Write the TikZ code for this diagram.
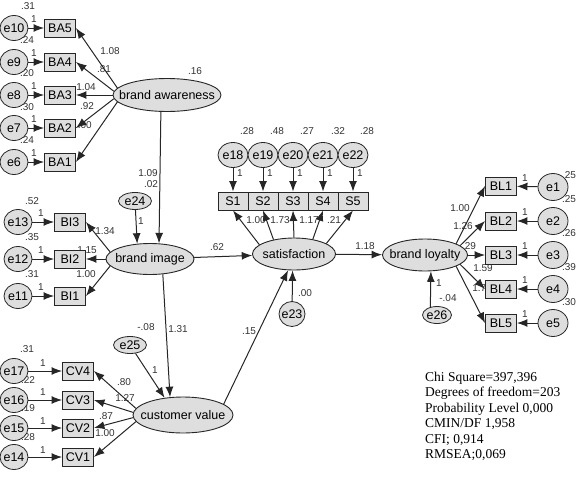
\documentclass[tikz,border=0pt]{standalone}
\usepackage{fontspec}
\setmainfont{Liberation Sans}
\newfontfamily\statfont{Liberation Serif}
\usetikzlibrary{shapes.geometric,arrows.meta}
\definecolor{semfill}{gray}{0.87}
\definecolor{semline}{gray}{0.15}
\newcommand{\lvtxt}[1]{\makebox[0pt]{#1}}
\tikzset{
  obs/.style={draw=semline,fill=semfill,line width=0.9pt,minimum width=31pt,minimum height=18pt,inner sep=0pt,font=\fontsize{12.5}{14}\selectfont},
  sbox/.style={obs,minimum width=30pt},
  err/.style={ellipse,draw=semline,fill=semfill,line width=0.8pt,minimum width=28pt,minimum height=25pt,inner sep=0pt,font=\fontsize{12.5}{14}\selectfont},
  res/.style={err,minimum width=33pt,minimum height=17pt},
  lat/.style={ellipse,draw=semline,fill=semfill,line width=0.9pt,inner sep=0pt,font=\fontsize{12.5}{14}\selectfont},
  est/.style={inner sep=0pt,font=\fontsize{10}{12}\selectfont,text=black!80},
  reg/.style={->,line width=1pt,draw=semline},
}
\begin{document}
\begin{tikzpicture}[x=1pt,y=-1pt,>={Latex[length=10.5pt,width=8pt]}]
    \useasboundingbox (0,0) rectangle (581,479);
    % estimates (set first, shapes cover them)
    \node[est] (vE10) at (28,6) {.31};
    \node[est] (vE9) at (27,40) {.24};
    \node[est] (vE8) at (27,73) {.20};
    \node[est] (vE7) at (27,107) {.30};
    \node[est] (vE6) at (27,140) {.24};
    \node[est] (fE10) at (34,19) {1};
    \node[est] (fE9) at (34,53) {1};
    \node[est] (fE8) at (34,86) {1};
    \node[est] (fE7) at (34,119) {1};
    \node[est] (fE6) at (34,153) {1};
    \node[est] (lBA5) at (110,51) {1.08};
    \node[est] (lBA4) at (104,69) {.81};
    \node[est] (lBA3) at (86,87) {1.04};
    \node[est] (lBA2) at (87,106) {.92};
    \node[est] (lBA1) at (82,125) {1.00};
    \node[est] (vBA) at (195,71) {.16};
    \node[est] (lBI) at (148,173) {1.09};
    \node[est] (vBI) at (151,184) {.02};
    \node[est] (vE13) at (32,201) {.52};
    \node[est] (vE12) at (32,237) {.35};
    \node[est] (vE11) at (32,274) {.31};
    \node[est] (fE13) at (41,213) {1};
    \node[est] (fE12) at (41,250) {1};
    \node[est] (fE11) at (41,287) {1};
    \node[est] (lBI3) at (105,231) {1.34};
    \node[est] (lBI2) at (87,250) {1.15};
    \node[est] (lBI1) at (86,274) {1.00};
    \node[est] (fE24) at (141,221) {1};
    \node[est] (lSA) at (217,247) {.62};
    \node[est] (vE17) at (27,349) {.31};
    \node[est] (vE16) at (28,380) {.22};
    \node[est] (vE15) at (28,408) {.19};
    \node[est] (vE14) at (28,437) {.28};
    \node[est] (fE17) at (43,363) {1};
    \node[est] (fE16) at (43,392) {1};
    \node[est] (fE15) at (43,421) {1};
    \node[est] (fE14) at (43,450) {1};
    \node[est] (lCV4) at (124,382) {.80};
    \node[est] (lCV3) at (125,398) {1.27};
    \node[est] (lCV2) at (106,416) {.87};
    \node[est] (lCV1) at (105,433) {1.00};
    \node[est] (vCV) at (146,327) {-.08};
    \node[est] (lCV) at (178,329) {1.31};
    \node[est] (fE25) at (155,370) {1};
    \node[est] (lCS) at (249,331) {.15};
    \node[est] (vE18) at (247,131) {.28};
    \node[est] (vE19) at (277,131) {.48};
    \node[est] (vE20) at (307,131) {.27};
    \node[est] (vE21) at (338,131) {.32};
    \node[est] (vE22) at (367,131) {.28};
    \node[est] (fE18) at (240,173) {1};
    \node[est] (fE19) at (270,173) {1};
    \node[est] (fE20) at (300,173) {1};
    \node[est] (fE21) at (330,173) {1};
    \node[est] (fE22) at (360,173) {1};
    \node[est] (lS1) at (256,220) {1.00};
    \node[est] (lS2) at (280,220) {1.73};
    \node[est] (lS3) at (309,220) {1.17};
    \node[est] (lS4) at (334,220) {.21};
    \node[est] (vSA) at (305,293) {.00};
    \node[est] (lSL) at (365,246) {1.18};
    \node[est] (vE1) at (569,175) {.25};
    \node[est] (vE2) at (569,199) {.25};
    \node[est] (vE3) at (569,233) {.26};
    \node[est] (vE4) at (569,267) {.39};
    \node[est] (vE5) at (569,302) {.30};
    \node[est] (fE1) at (525,178) {1};
    \node[est] (fE2) at (525,212) {1};
    \node[est] (fE3) at (525,246) {1};
    \node[est] (fE4) at (525,280) {1};
    \node[est] (fE5) at (525,314) {1};
    \node[est] (lBL1) at (460,208) {1.00};
    \node[est] (lBL2) at (463,226) {1.26};
    \node[est] (lBL3) at (469,246) {.29};
    \node[est] (lBL4) at (483,268) {1.59};
    \node[est] (lBL5) at (482,288) {1.78};
    \node[est] (vBL) at (448,298) {-.04};
    \node[est] (fE26) at (439,283) {1};
    % brand awareness
    \node[obs] (BA5) at (60,28) {BA5};
    \node[obs] (BA4) at (60,62) {BA4};
    \node[obs] (BA3) at (60,95) {BA3};
    \node[obs] (BA2) at (60,128) {BA2};
    \node[obs] (BA1) at (60,162) {BA1};
    \node[err] (e10) at (14,28) {\lvtxt{e10}};
    \node[err] (e9) at (14,62) {\lvtxt{e9}};
    \node[err] (e8) at (14,95) {\lvtxt{e8}};
    \node[err] (e7) at (14,128) {\lvtxt{e7}};
    \node[err] (e6) at (14,162) {\lvtxt{e6}};
    \node[lat,minimum width=108pt,minimum height=33pt] (ba) at (167,95) {\lvtxt{brand awareness}};
    % brand image
    \node[obs] (BI3) at (70,222) {BI3};
    \node[obs] (BI2) at (70,259) {BI2};
    \node[obs] (BI1) at (70,296) {BI1};
    \node[err] (e13) at (18,222) {\lvtxt{e13}};
    \node[err] (e12) at (18,259) {\lvtxt{e12}};
    \node[err] (e11) at (18,296) {\lvtxt{e11}};
    \node[res] (e24) at (135,201) {\lvtxt{e24}};
    \node[lat,minimum width=88pt,minimum height=31pt] (bi) at (150,259) {\lvtxt{brand image}};
    % customer value
    \node[obs] (CV4) at (78,371) {CV4};
    \node[obs] (CV3) at (78,400) {CV3};
    \node[obs] (CV2) at (78,428) {CV2};
    \node[obs] (CV1) at (78,457) {CV1};
    \node[err] (e17) at (14,371) {\lvtxt{e17}};
    \node[err] (e16) at (14,400) {\lvtxt{e16}};
    \node[err] (e15) at (14,428) {\lvtxt{e15}};
    \node[err] (e14) at (14,457) {\lvtxt{e14}};
    \node[res] (e25) at (130,345) {\lvtxt{e25}};
    \node[lat,minimum width=100pt,minimum height=36pt] (cv) at (183,415) {\lvtxt{customer value}};
    % satisfaction
    \node[err,minimum width=30pt] (e18) at (233,155) {\lvtxt{e18}};
    \node[err,minimum width=30pt] (e19) at (263,155) {\lvtxt{e19}};
    \node[err,minimum width=30pt] (e20) at (293,155) {\lvtxt{e20}};
    \node[err,minimum width=30pt] (e21) at (323,155) {\lvtxt{e21}};
    \node[err,minimum width=30pt] (e22) at (353,155) {\lvtxt{e22}};
    \node[sbox] (S1) at (233,201) {S1};
    \node[sbox] (S2) at (263,201) {S2};
    \node[sbox] (S3) at (293,201) {S3};
    \node[sbox] (S4) at (323,201) {S4};
    \node[sbox] (S5) at (353,201) {S5};
    \node[lat,minimum width=83pt,minimum height=32pt] (sat) at (294,254) {\lvtxt{satisfaction}};
    \node[err,minimum width=26pt] (e23) at (292,314) {\lvtxt{e23}};
    % brand loyalty
    \node[obs] (BL1) at (501,186) {BL1};
    \node[obs] (BL2) at (501,221) {BL2};
    \node[obs] (BL3) at (501,255) {BL3};
    \node[obs] (BL4) at (501,289) {BL4};
    \node[obs] (BL5) at (501,323) {BL5};
    \node[err,minimum width=30pt,minimum height=27pt] (e1) at (553,187) {\lvtxt{e1}};
    \node[err,minimum width=30pt,minimum height=27pt] (e2) at (553,221) {\lvtxt{e2}};
    \node[err,minimum width=30pt,minimum height=27pt] (e3) at (553,255) {\lvtxt{e3}};
    \node[err,minimum width=30pt,minimum height=27pt] (e4) at (553,289) {\lvtxt{e4}};
    \node[err,minimum width=30pt,minimum height=27pt] (e5) at (553,323) {\lvtxt{e5}};
    \node[lat,minimum width=85pt,minimum height=32pt] (bl) at (425,255) {\lvtxt{brand loyalty}};
    \node[res,minimum width=29pt] (e26) at (437,315) {\lvtxt{e26}};
    % fit indices
    \node[anchor=north west,align=left,inner sep=0pt,font=\statfont\fontsize{13.5}{15.4}\selectfont] (fit) at (425,372)
        {Chi Square=397,396\\Degrees of freedom=203\\Probability Level 0,000\\CMIN/DF 1,958\\CFI; 0,914\\RMSEA;0,069};
    % paths
    \draw[reg] (e10) -- (BA5);
    \draw[reg] (e9) -- (BA4);
    \draw[reg] (e8) -- (BA3);
    \draw[reg] (e7) -- (BA2);
    \draw[reg] (e6) -- (BA1);
    \draw[reg] (ba.172) -- (BA5.east);
    \draw[reg] (ba.176) -- (BA4.east);
    \draw[reg] (ba.west) -- (BA3.east);
    \draw[reg] (ba.184) -- (BA2.east);
    \draw[reg] (ba.188) -- (BA1.east);
    \draw[reg] (ba.250) -- (bi.60);
    \draw[reg] (e24) -- (bi.130);
    \draw[reg] (e13) -- (BI3);
    \draw[reg] (e12) -- (BI2);
    \draw[reg] (e11) -- (BI1);
    \draw[reg] (bi.170) -- (BI3.east);
    \draw[reg] (bi.west) -- (BI2.east);
    \draw[reg] (bi.190) -- (BI1.east);
    \draw[reg] (bi) -- (sat);
    \draw[reg] (bi.310) -- (cv.126);
    \draw[reg] (e25) -- (cv.137);
    \draw[reg] (e17) -- (CV4);
    \draw[reg] (e16) -- (CV3);
    \draw[reg] (e15) -- (CV2);
    \draw[reg] (e14) -- (CV1);
    \draw[reg] (cv.172) -- (CV4.east);
    \draw[reg] (cv.177) -- (CV3.east);
    \draw[reg] (cv.183) -- (CV2.east);
    \draw[reg] (cv.188) -- (CV1.east);
    \draw[reg] (cv.15) -- (sat.250);
    \draw[reg] (e23) -- (sat.265);
    \draw[reg] (e18) -- (S1);
    \draw[reg] (e19) -- (S2);
    \draw[reg] (e20) -- (S3);
    \draw[reg] (e21) -- (S4);
    \draw[reg] (e22) -- (S5);
    \draw[reg] (sat.165) -- (S1.south);
    \draw[reg] (sat.145) -- (S2.south);
    \draw[reg] (sat.north) -- (S3.south);
    \draw[reg] (sat.38) -- (S4.south);
    \draw[reg] (sat.18) -- (S5.south);
    \draw[reg] (sat) -- (bl);
    \draw[reg] (bl.20) -- (BL1.west);
    \draw[reg] (bl.15) -- (BL2.west);
    \draw[reg] (bl.east) -- (BL3.west);
    \draw[reg] (bl.-15) -- (BL4.west);
    \draw[reg] (bl.-20) -- (BL5.west);
    \draw[reg] (e1) -- (BL1);
    \draw[reg] (e2) -- (BL2);
    \draw[reg] (e3) -- (BL3);
    \draw[reg] (e4) -- (BL4);
    \draw[reg] (e5) -- (BL5);
    \draw[reg] (e26.130) -- (bl.290);
\end{tikzpicture}
\end{document}
